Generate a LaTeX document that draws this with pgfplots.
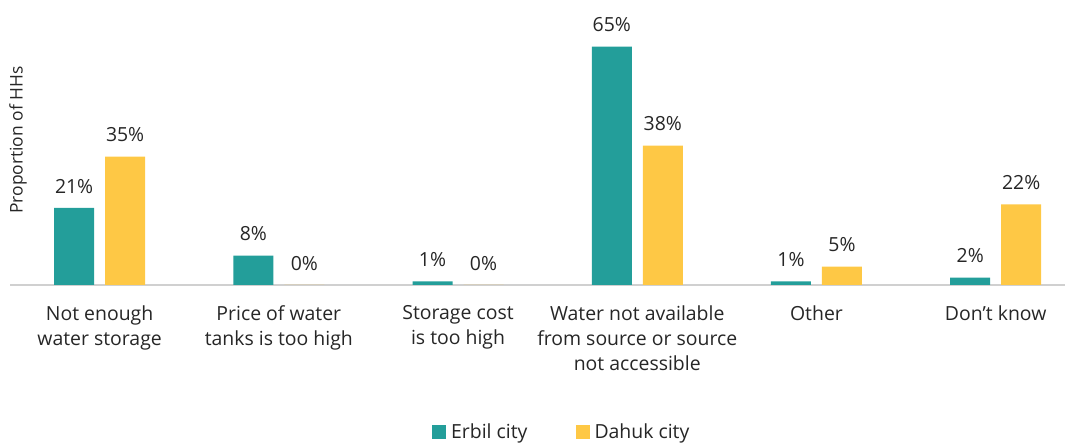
\documentclass[border=0pt]{standalone}
\usepackage{pgfplots}
\pgfplotsset{compat=1.18}
\usepackage{fontspec}
\setmainfont{Open Sans}
\definecolor{erbil}{HTML}{239E9A}
\definecolor{dahuk}{HTML}{FEC845}
\definecolor{txt}{HTML}{262626}
\definecolor{base}{HTML}{D0D0D0}
\begin{document}
\begin{tikzpicture}[x=1bp,y=1bp]
\path[use as bounding box] (0,0) rectangle (1075,443);
\begin{axis}[
  at={(10bp,158bp)}, anchor=south west,
  scale only axis, width=1055bp, height=275bp,
  xmin=-0.5, xmax=5.387, ymin=0, ymax=75,
  ybar, bar width=40bp, 
  axis x line*=bottom, hide y axis,
  axis line style={base, line width=2bp},
  xtick={0,1,2,3,4,5}, major tick length=0pt,
  xticklabels={Not enough\\water storage, Price of water\\tanks is too high, Storage cost\\is too high, Water not available\\from source or source\\not accessible, Other, Don't know},
  xticklabel style={align=center, font=\fontsize{19.5}{25}\selectfont, text=txt, yshift=-17bp},
  nodes near coords={\pgfmathprintnumber{\pgfplotspointmeta}\%},
  nodes near coords style={font=\fontsize{19.5}{22}\selectfont, text=txt, anchor=south, yshift=11bp},
  /pgf/number format/assume math mode=true,
  legend style={at={(0.523,-0.535)}, anchor=center, draw=none, legend columns=2,
    font=\fontsize{19.5}{22}\selectfont, text=txt,
    /tikz/every even column/.append style={column sep=46bp},
    /tikz/every odd column/.append style={column sep=3bp}},
  legend image code/.code={\fill[#1] (0bp,-7bp) rectangle (14bp,7bp);},
  clip=false,
]
\addplot[fill=erbil, draw=none, bar shift=-25.5bp] coordinates {(0,21) (1,8) (2,1) (3,65) (4,1) (5,2)};
\addplot[fill=dahuk, draw=none, bar shift=25.5bp] coordinates {(0,35) (1,0) (2,0) (3,38) (4,5) (5,22)};
\legend{Erbil city, Dahuk city}
\end{axis}
\node[rotate=90, font=\fontsize{17.5}{19}\selectfont, text=txt] at (18,303) {Proportion of HHs};
\end{tikzpicture}
\end{document}
